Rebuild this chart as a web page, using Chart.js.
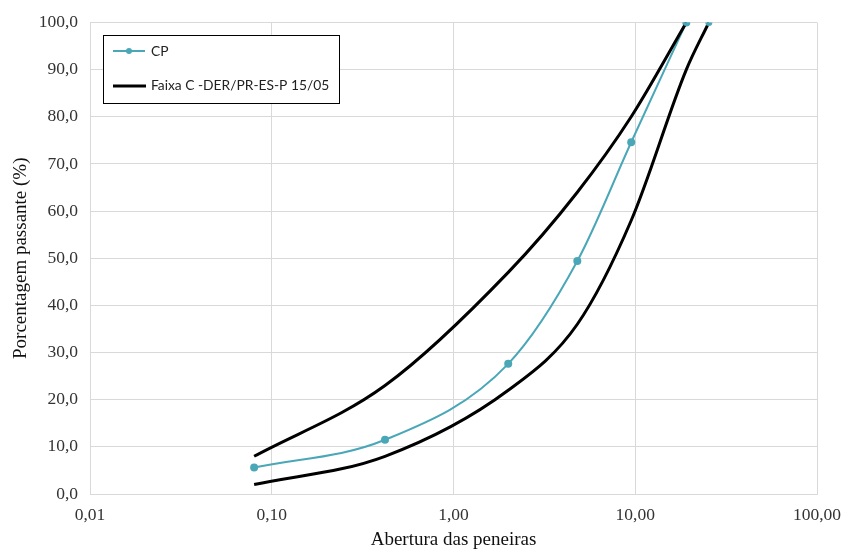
<!DOCTYPE html>
<html>
<head>
<meta charset="utf-8">
<script src="https://cdn.jsdelivr.net/npm/chart.js@4.4.1/dist/chart.umd.min.js"></script>
<style>
html, body { margin: 0; padding: 0; background: #fff; }
</style>
</head>
<body>
<canvas id="c" width="843" height="551"></canvas>
<script>
const canvas = document.getElementById("c")

// sieve openings (mm) and % passing
const sieve_mm = [0.08, 0.42, 2.0, 4.8, 9.5, 19.1, 25.4]
const cp_passing = [5.6, 11.5, 27.6, 49.4, 74.6, 100]
const band_upper = [8, 23, 47, 64, 80, 100]
const band_lower = [2, 8, 22, 36, 58, 90, 100]
const x_ticks = [0.01, 0.1, 1, 10, 100]

const cp_label = "CP"
const band_label = "Faixa C -DER/PR-ES-P 15/05"

const cp_color = "#4aa7b8"
const band_color = "#000000"
const grid_color = "#d9d9d9"
const serif = "'Liberation Serif', 'Times New Roman', serif"
const legend_font = "13.8px Lato, 'Liberation Sans', sans-serif"

function to_points(values){
    return values.map((v, i) => ({x: sieve_mm[i], y: v}))
}

// only the last point of each band line gets a marker
function end_marker(ctx){
    return ctx.dataIndex === ctx.dataset.data.length - 1 ? 3.5 : 0
}

const legend_box = {
    id: "legend_box",
    afterDraw(chart){
        const c = chart.ctx
        c.save()
        c.fillStyle = "#fff"
        c.fillRect(103.5, 35.5, 236, 68)
        c.strokeStyle = "#000"
        c.lineWidth = 1
        c.strokeRect(103.5, 35.5, 236, 68)

        c.strokeStyle = cp_color
        c.lineWidth = 2
        c.beginPath(); c.moveTo(113, 51); c.lineTo(145, 51); c.stroke()
        c.fillStyle = cp_color
        c.beginPath(); c.arc(129, 51, 3, 0, Math.PI * 2); c.fill()

        c.strokeStyle = band_color
        c.lineWidth = 3
        c.beginPath(); c.moveTo(113, 86); c.lineTo(146, 86); c.stroke()

        c.fillStyle = "#222"
        c.font = legend_font
        c.textBaseline = "middle"
        c.fillText(cp_label, 151, 52)
        c.fillText(band_label, 151, 86)
        c.restore()
    }
}

const chart = new Chart(canvas.getContext("2d"), {
    type: "line",
    data: {
        datasets: [
            {
                label: band_label,
                data: to_points(band_upper),
                borderColor: band_color,
                borderWidth: 3,
                cubicInterpolationMode: "monotone",
                pointRadius: end_marker,
                pointBackgroundColor: cp_color,
                pointBorderWidth: 0
            },
            {
                label: band_label,
                data: to_points(band_lower),
                borderColor: band_color,
                borderWidth: 3,
                cubicInterpolationMode: "monotone",
                pointRadius: end_marker,
                pointBackgroundColor: cp_color,
                pointBorderWidth: 0
            },
            {
                label: cp_label,
                data: to_points(cp_passing),
                borderColor: cp_color,
                borderWidth: 2,
                cubicInterpolationMode: "monotone",
                pointRadius: 4,
                pointBackgroundColor: cp_color,
                pointBorderWidth: 0
            }
        ]
    },
    options: {
        responsive: false,
        animation: false,
        layout: {padding: {top: 18, right: 26, left: 0, bottom: 0}},
        plugins: {
            legend: {display: false},
            tooltip: {enabled: false}
        },
        scales: {
            x: {
                type: "logarithmic",
                min: 0.01,
                max: 100,
                afterBuildTicks: s => { s.ticks = x_ticks.map(v => ({value: v})) },
                afterFit: s => { s.height = 57; s.paddingLeft = 0; s.paddingRight = 0 },
                grid: {color: grid_color, drawTicks: false},
                border: {color: grid_color},
                ticks: {
                    autoSkip: false,
                    maxRotation: 0,
                    padding: 11,
                    color: "#333",
                    font: {family: serif, size: 17.5},
                    callback: v => Number(v).toFixed(2).replace(".", ",")
                },
                title: {
                    display: true,
                    text: "Abertura das peneiras",
                    color: "#111",
                    font: {family: serif, size: 19},
                    padding: {top: 0, bottom: 0}
                }
            },
            y: {
                min: 0,
                max: 100,
                afterFit: s => { s.width = 90 },
                grid: {color: grid_color, drawTicks: false},
                border: {color: grid_color},
                ticks: {
                    stepSize: 10,
                    padding: 12,
                    color: "#333",
                    font: {family: serif, size: 17.5},
                    callback: v => Number(v).toFixed(1).replace(".", ",")
                },
                title: {
                    display: true,
                    text: "Porcentagem passante (%)",
                    color: "#111",
                    font: {family: serif, size: 19},
                    padding: {top: 10, bottom: 0}
                }
            }
        }
    },
    plugins: [legend_box]
})
</script>
</body>
</html>
